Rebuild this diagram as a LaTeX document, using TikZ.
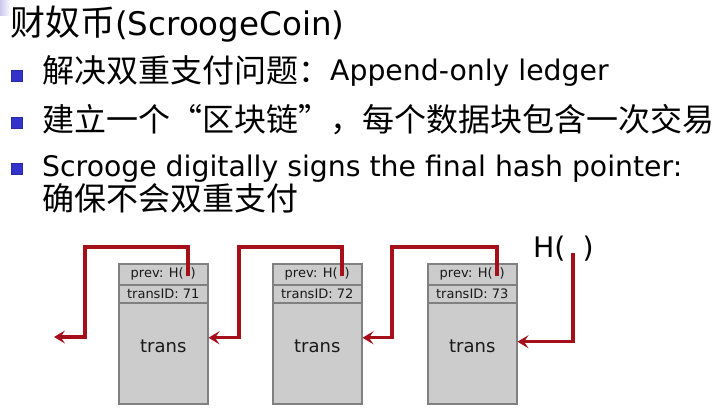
\documentclass[tikz,border=0pt]{standalone}
\usepackage{fontspec}
\setmainfont{DejaVu Sans}
\newfontfamily\cjk{Noto Sans CJK SC}
\usetikzlibrary{arrows.meta,calc}
\definecolor{chainred}{RGB}{165,15,25}
\definecolor{boxgray}{RGB}{128,128,128}
\definecolor{boxfill}{RGB}{204,204,204}
\definecolor{textdark}{RGB}{25,25,25}
\definecolor{bulletblue}{RGB}{51,51,204}
\definecolor{lavender}{RGB}{200,200,238}
\newcommand{\zhL}[1]{{\cjk\fontsize{32}{36}\selectfont\raisebox{-2pt}{#1}}}
\begin{document}
\begin{tikzpicture}[x=1pt,y=-1pt,
  txt/.style={inner sep=0pt, anchor=base west, text=black},
  bullet/.style={fill=bulletblue, draw=bulletblue!80!black, line width=0.4pt, minimum size=11pt, inner sep=0pt},
  rowbox/.style={draw=boxgray, fill=boxfill, line width=1.5pt, minimum width=89pt, inner sep=0pt, anchor=north west, text=textdark, font=\fontsize{13}{15}\selectfont},
  translabel/.style={inner sep=0pt, text=textdark, font=\fontsize{18}{21}\selectfont},
  chain/.style={draw=chainred, line width=3.2pt, -{Stealth[length=11pt,width=13pt,inset=4.5pt]}}
]
\useasboundingbox (0,0) rectangle (717,418);
\fill[white] (0,0) rectangle (717,418);
\shade[left color=lavender, right color=white] (0,0) rectangle (11,15);

% title and bullets
\node[txt] (title) at (10,35) {{\cjk\fontsize{35}{40}\selectfont 财奴币}{\fontsize{32.5}{38}\selectfont(ScroogeCoin)}};
\node[bullet] (b1) at (16.5,76) {};
\node[bullet] (b2) at (16.5,122.5) {};
\node[bullet] (b3) at (16.5,169) {};
\node[txt] (l1) at (42,80) {\zhL{解决双重支付问题：}{\fontsize{28.3}{32}\selectfont Append-only ledger}};
\node[txt] (l2) at (42,131) {{\cjk\fontsize{32}{36}\selectfont 建立一个“区块链”，每个数据块包含一次交易}};
\node[txt] (l3) at (42,176) {{\fontsize{28.3}{32}\selectfont Scrooge digitally signs the final hash pointer:}};
\node[txt] (l4) at (42,210) {{\cjk\fontsize{32}{36}\selectfont 确保不会双重支付}};

% blocks
\foreach \i/\x/\n in {1/118/71, 2/272/72, 3/427/73}{
  \node[rowbox, minimum height=101pt] (d\i) at (\x,302) {};
  \node[rowbox, minimum height=18pt] (t\i) at (\x,284) {transID: \n};
  \node[rowbox, minimum height=21pt] (p\i) at (\x,263) {prev: H(\hspace{7pt})};
  \node[translabel] (tr\i) at ($(d\i.center)+(0,-7)$) {trans};
  \coordinate (h\i) at ($(p\i.west)+(70,2)$);
}

% final hash pointer
\node[txt, font=\fontsize{28.3}{32}\selectfont] (hl) at (533,257) {H(\hspace{17pt})};
\coordinate (hs) at (573,253);

% connectors
\coordinate (end0) at (54,337);
\draw[chain] (h1) |- (85,247) |- (end0);
\draw[chain] (h2) |- (239,247) |- ($(d1.east)+(0,-15.5)$);
\draw[chain] (h3) |- (392,247) |- ($(d2.east)+(0,-15.5)$);
\draw[chain] (hs) |- ($(d3.east)+(0,-11.5)$);
\end{tikzpicture}
\end{document}
